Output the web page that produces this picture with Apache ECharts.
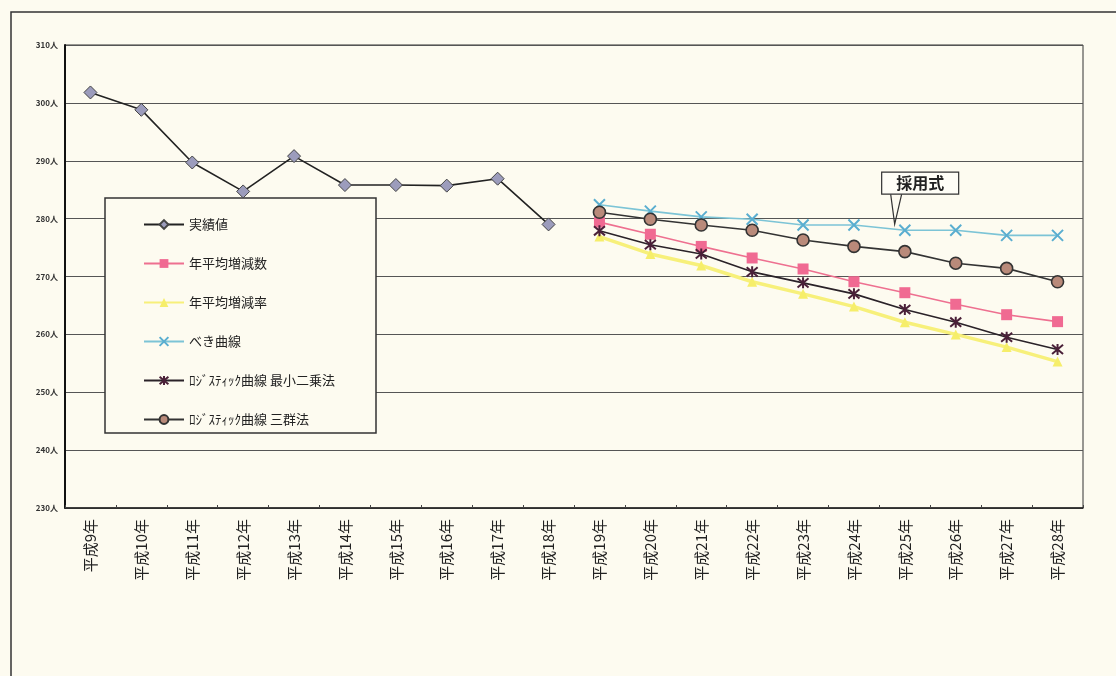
<!DOCTYPE html>
<html>
<head>
<meta charset="utf-8">
<script src="https://cdn.jsdelivr.net/npm/echarts@6/dist/echarts.min.js"></script>
<style>
  html, body { margin: 0; padding: 0; background: #fdfbf0; }
  #chart { width: 1116px; height: 676px; }
</style>
</head>
<body>
<div id="chart"></div>
<script>
// 年度（平成9年〜平成28年）
const years = ['平成9年','平成10年','平成11年','平成12年','平成13年','平成14年','平成15年','平成16年','平成17年','平成18年',
               '平成19年','平成20年','平成21年','平成22年','平成23年','平成24年','平成25年','平成26年','平成27年','平成28年'];

// 実績値（平成9年〜平成18年）
const actual = [301.8, 298.8, 289.7, 284.7, 290.8, 285.8, 285.8, 285.7, 286.9, 279.0];

// 推計値（平成19年〜平成28年）
const avgChangeCount = [279.4, 277.3, 275.2, 273.2, 271.3, 269.1, 267.2, 265.2, 263.4, 262.2];
const avgChangeRate  = [276.9, 273.9, 271.9, 269.1, 267.0, 264.8, 262.1, 260.0, 257.8, 255.3];
const powerCurve     = [282.4, 281.3, 280.3, 279.9, 278.9, 278.9, 278.0, 278.0, 277.1, 277.1];
const logisticLSQ    = [277.9, 275.5, 273.9, 270.8, 268.9, 267.0, 264.3, 262.1, 259.5, 257.4];
const logisticThree  = [281.1, 279.9, 278.9, 278.0, 276.3, 275.2, 274.3, 272.3, 271.4, 269.1];

// 縦軸
const yMin = 230, yMax = 310, yStep = 10;

const seriesNames = ['実績値', '年平均増減数', '年平均増減率', 'べき曲線', 'ﾛｼﾞｽﾃｨｯｸ曲線 最小二乗法', 'ﾛｼﾞｽﾃｨｯｸ曲線 三群法'];

const pad = n => Array(n).fill(null);
const histLen = actual.length;
const proj = arr => pad(histLen).concat(arr);
const hist = arr => arr.concat(pad(years.length - arr.length));

const font = '"Noto Sans CJK JP", "Noto Sans", sans-serif';
const crossPath = 'path://M0,0L10,10M10,0L0,10';
const starPath = 'path://M0,0L10,10M10,0L0,10M5,-1L5,11';

const chart = echarts.init(document.getElementById('chart'));

const option = {
  backgroundColor: '#fdfbf0',
  animation: false,
  grid: {
    left: 65, right: 33, top: 45, bottom: 168,
    show: true, borderColor: '#333', borderWidth: 1
  },
  legend: {
    orient: 'vertical',
    left: 138, top: 211,
    itemWidth: 40, itemHeight: 11,
    itemGap: 22,
    data: seriesNames,
    textStyle: { fontFamily: font, fontSize: 13, color: '#222', lineHeight: 17 },
    selectedMode: false
  },
  xAxis: {
    type: 'category',
    data: years,
    boundaryGap: true,
    axisLine: { lineStyle: { color: '#222', width: 1.5 } },
    axisTick: { show: true, inside: true, length: 3, lineStyle: { color: '#444' } },
    axisLabel: {
      rotate: 90, margin: 11, interval: 0,
      fontFamily: font, fontSize: 15, color: '#222'
    }
  },
  yAxis: {
    type: 'value',
    min: yMin, max: yMax, interval: yStep,
    axisLine: { show: true, lineStyle: { color: '#111', width: 2 } },
    axisTick: { show: false },
    axisLabel: {
      formatter: '{value}人', margin: 7,
      fontFamily: font, fontSize: 8, fontWeight: 'bold', color: '#333'
    },
    splitLine: { lineStyle: { color: '#555', width: 1 } }
  },
  series: [
    {
      name: seriesNames[0], type: 'line', data: hist(actual),
      symbol: 'diamond', symbolSize: 13,
      lineStyle: { color: '#222', width: 1.6 },
      itemStyle: { color: '#9c9cbc', borderColor: '#444', borderWidth: 1 },
      z: 3
    },
    {
      name: seriesNames[1], type: 'line', data: proj(avgChangeCount),
      symbol: 'rect', symbolSize: 11,
      lineStyle: { color: '#ee7090', width: 1.6 },
      itemStyle: { color: '#f06a92' },
      z: 4
    },
    {
      name: seriesNames[2], type: 'line', data: proj(avgChangeRate),
      symbol: 'triangle', symbolSize: 10,
      lineStyle: { color: '#f7f07a', width: 3.5 },
      itemStyle: { color: '#f6ee6a' },
      z: 2
    },
    {
      name: seriesNames[3], type: 'line', data: proj(powerCurve),
      symbol: crossPath, symbolSize: 11,
      lineStyle: { color: '#7cc4d6', width: 1.6 },
      itemStyle: { color: 'rgba(0,0,0,0)', borderColor: '#5aaed0', borderWidth: 2 },
      z: 3
    },
    {
      name: seriesNames[4], type: 'line', data: proj(logisticLSQ),
      symbol: starPath, symbolSize: 11,
      lineStyle: { color: '#2a2228', width: 1.6 },
      itemStyle: { color: 'rgba(0,0,0,0)', borderColor: '#4a2038', borderWidth: 2 },
      z: 5
    },
    {
      name: seriesNames[5], type: 'line', data: proj(logisticThree),
      symbol: 'circle', symbolSize: 12,
      lineStyle: { color: '#333', width: 1.6 },
      itemStyle: { color: '#b98a7a', borderColor: '#333', borderWidth: 1.6 },
      z: 4
    }
  ],
  graphic: [
    // 外枠
    {
      type: 'rect', silent: true, z: 0,
      shape: { x: 11, y: 12, width: 1200, height: 800 },
      style: { fill: 'none', stroke: '#333', lineWidth: 1.5 }
    },
    // 凡例の枠
    {
      type: 'rect', silent: true, z: 1,
      shape: { x: 105, y: 198, width: 271, height: 235 },
      style: { fill: '#fdfbf0', stroke: '#333', lineWidth: 1.5 }
    }
  ]
};

chart.setOption(option);

// 「採用式」の吹き出し（べき曲線を指す）
const p24 = chart.convertToPixel({ xAxisIndex: 0, yAxisIndex: 0 }, [15, powerCurve[5]]);
const p25 = chart.convertToPixel({ xAxisIndex: 0, yAxisIndex: 0 }, [16, powerCurve[6]]);
const t = 0.8;
const tipX = p24[0] + (p25[0] - p24[0]) * t;
const tipY = p24[1] + (p25[1] - p24[1]) * t - 5;
const boxW = 77, boxH = 22;
const boxX = tipX - 13, boxY = tipY - 52;

chart.setOption({
  graphic: [
    option.graphic[0],
    option.graphic[1],
    {
      type: 'polyline', silent: true, z: 20,
      shape: { points: [[boxX + 9, boxY + boxH], [tipX, tipY], [boxX + 20, boxY + boxH]] },
      style: { stroke: '#333', lineWidth: 1.2, fill: 'none' }
    },
    {
      type: 'rect', silent: true, z: 21,
      shape: { x: boxX, y: boxY, width: boxW, height: boxH },
      style: { fill: '#fefdf6', stroke: '#333', lineWidth: 1.2 }
    },
    {
      type: 'text', silent: true, z: 22,
      x: boxX + boxW / 2, y: boxY + boxH / 2,
      style: {
        text: '採用式', fontFamily: font, fontSize: 16, fontWeight: 'bold',
        fill: '#222', align: 'center', verticalAlign: 'middle'
      }
    }
  ]
});
</script>
</body>
</html>
